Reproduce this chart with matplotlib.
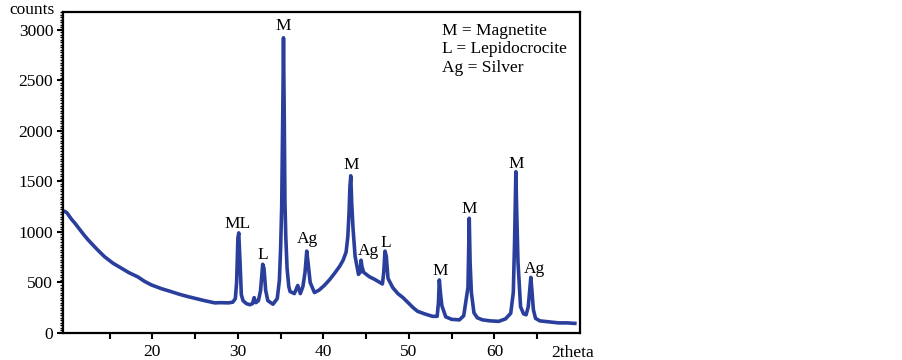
import matplotlib
matplotlib.use("Agg")
import matplotlib.pyplot as plt
from matplotlib.ticker import MultipleLocator, FixedLocator

two_theta = [
    9.8, 10.0, 10.5, 11.0, 12.0, 12.5, 13.5, 14.4, 15.4, 16.4, 17.3, 18.3, 19.1, 19.9,
    21.0, 22.2, 23.2, 24.2, 25.1, 26.1, 27.3, 28.0, 28.9, 29.4, 29.7, 29.85, 30.0, 30.1,
    30.25, 30.4, 30.6, 31.0, 31.4, 31.7, 31.9, 32.1, 32.4, 32.65, 32.9, 33.05, 33.25, 33.5,
    34.1, 34.6, 34.85, 35.0, 35.12, 35.25, 35.33, 35.42, 35.5, 35.6, 35.75, 35.95, 36.1,
    36.6, 37.0, 37.3, 37.6, 37.85, 38.05, 38.2, 38.45, 38.95, 39.5, 40.1, 40.7, 41.3, 41.9,
    42.3, 42.65, 42.85, 43.0, 43.1, 43.2, 43.3, 43.45, 43.7, 44.1, 44.3, 44.4, 44.5, 44.7,
    45.4, 46.0, 46.5, 46.9, 47.05, 47.2, 47.35, 47.55, 48.1, 48.7, 49.3, 49.9, 50.5, 51.0,
    51.8, 52.75, 53.3, 53.45, 53.55, 53.7, 53.85, 54.3, 55.0, 55.9, 56.4, 56.7, 56.9, 57.0,
    57.05, 57.15, 57.3, 57.6, 58.0, 58.6, 59.5, 60.5, 61.3, 61.9, 62.2, 62.35, 62.45, 62.5,
    62.6, 62.75, 63.05, 63.4, 63.7, 63.95, 64.15, 64.25, 64.35, 64.55, 64.8, 65.3, 66.4,
    67.5, 68.5, 69.4,
]
counts = [
    1200, 1190, 1130, 1080, 970, 920, 830, 755, 690, 640, 595, 555, 510, 475,
    440, 409, 382, 359, 340, 320, 298, 300, 298, 305, 340, 500, 940, 990,
    700, 380, 320, 290, 280, 290, 350, 300, 320, 420, 680, 640, 420, 320,
    285, 340, 520, 850, 1250, 2200, 2920, 2150, 1300, 950, 640, 460, 410,
    390, 470, 390, 460, 600, 810, 700, 500, 400, 425, 470, 525, 590, 660,
    720, 800, 950, 1200, 1450, 1555, 1300, 1050, 760, 580, 600, 720, 660, 600,
    555, 530, 505, 485, 600, 810, 760, 540, 450, 390, 350, 300, 250, 215,
    190, 165, 165, 300, 525, 380, 270, 160, 135, 130, 170, 340, 450, 900,
    1135, 700, 400, 200, 150, 130, 120, 115, 140, 195, 400, 900, 1400, 1595,
    1200, 700, 260, 190, 180, 260, 450, 550, 450, 230, 145, 120, 110,
    100, 100, 95,
]

peak_labels = ["ML", "L", "M", "Ag", "M", "Ag", "L", "M", "M", "M", "Ag"]
peak_label_x = [30.0, 32.9, 35.3, 38.1, 43.2, 45.25, 47.3, 53.6, 57.1, 62.5, 64.65]
peak_label_y = [1040, 733, 2993, 894, 1620, 772, 854, 574, 1185, 1630, 590]

legend_lines = ["M = Magnetite", "L = Lepidocrocite", "Ag = Silver"]
x_major = [20, 30, 40, 50, 60]
x_minor = [15, 25, 35, 45, 55, 65]
y_major = [0, 500, 1000, 1500, 2000, 2500, 3000]

FS = 12.5
plt.rcParams['font.family'] = ['Liberation Serif', 'DejaVu Serif']
fig = plt.figure(figsize=(9.03, 3.6), dpi=100)
ax = fig.add_axes([63/903, 27/360, (580-63)/903, (333-12)/360])

ax.plot(two_theta, counts, color='#2a3f9c', lw=2.6, solid_joinstyle='round')

ax.set_xlim(9.55, 70.0)
ax.set_ylim(0, 3175)

ax.xaxis.set_major_locator(FixedLocator(x_major))
ax.xaxis.set_minor_locator(FixedLocator(x_minor))
ax.yaxis.set_major_locator(FixedLocator(y_major))
ax.yaxis.set_minor_locator(MultipleLocator(25))

ax.tick_params(axis='both', which='major', direction='out', length=4, width=1.5,
               labelsize=FS, colors='black')
ax.tick_params(axis='x', which='minor', direction='out', length=4, width=1.5)
ax.tick_params(axis='y', which='minor', direction='out', length=2.5, width=1)
ax.tick_params(axis='x', which='major', pad=4)
ax.tick_params(axis='y', which='major', pad=3)

for s in ax.spines.values():
    s.set_linewidth(1.6)
    s.set_color('black')

for lab, x, y in zip(peak_labels, peak_label_x, peak_label_y):
    ax.text(x, y, lab, ha='center', va='baseline', fontsize=FS)

for i, line in enumerate(legend_lines):
    fig.text(441.7/903, 1 - (35 + i*18.3)/360, line, ha='left', va='baseline', fontsize=FS)

fig.text(55/903, 1 - 14/360, 'counts', ha='right', va='baseline', fontsize=FS)
fig.text(551/903, 1 - 357/360, '2theta', ha='left', va='baseline', fontsize=FS)

fig.savefig('out.png', dpi=100)
